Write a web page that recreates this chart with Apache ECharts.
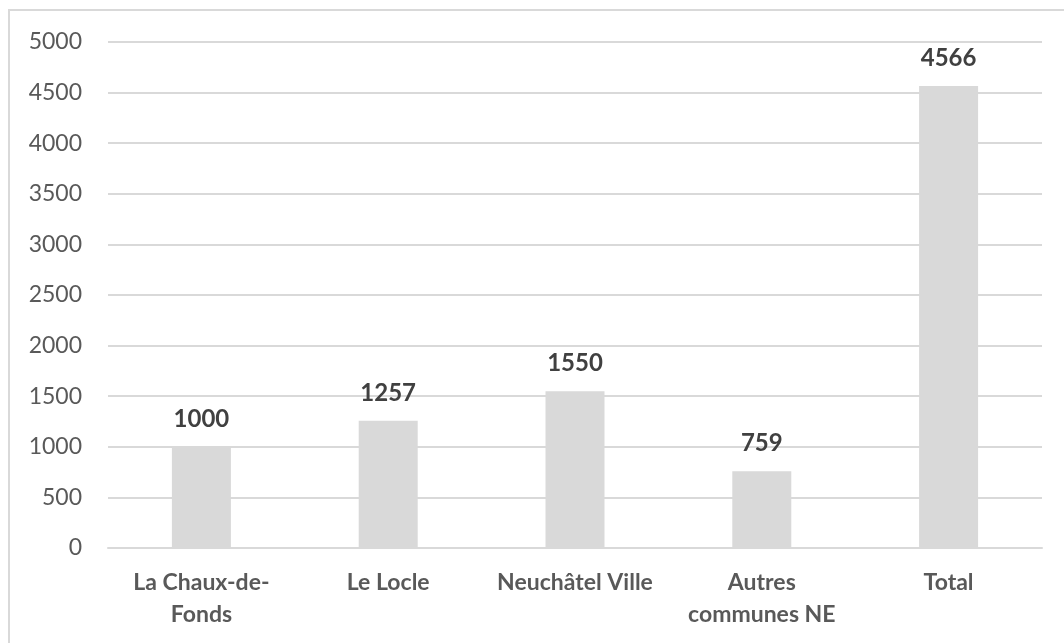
<!DOCTYPE html>
<html>
<head>
<meta charset="utf-8">
<script src="https://cdn.jsdelivr.net/npm/echarts@6/dist/echarts.min.js"></script>
<style>
  html, body { margin: 0; padding: 0; background: #fff; }
  #chart { width: 1064px; height: 643px; }
</style>
</head>
<body>
<div id="chart"></div>
<script>
  // données
  var categories = ['La Chaux-de-\nFonds', 'Le Locle', 'Neuchâtel Ville', 'Autres\ncommunes NE', 'Total'];
  var values = [1000, 1257, 1550, 759, 4566];
  var yTicks = [0, 500, 1000, 1500, 2000, 2500, 3000, 3500, 4000, 4500, 5000];

  var chart = echarts.init(document.getElementById('chart'));
  var font = 'Lato';

  var option = {
    animation: false,
    graphic: [{
      type: 'rect',
      shape: { x: 9, y: 10, width: 1200, height: 800 },
      style: { fill: 'none', stroke: '#d9d9d9', lineWidth: 2 },
      silent: true
    }],
    grid: { left: 108, right: 22, top: 42, bottom: 95, containLabel: false },
    xAxis: {
      type: 'category',
      data: categories,
      axisTick: { show: false },
      axisLine: { lineStyle: { color: '#d9d9d9', width: 2 } },
      axisLabel: {
        interval: 0,
        margin: 19,
        color: '#595959',
        fontFamily: font,
        fontWeight: 'bold',
        fontSize: 23,
        lineHeight: 32
      }
    },
    yAxis: {
      type: 'value',
      min: yTicks[0],
      max: yTicks[yTicks.length - 1],
      interval: 500,
      axisLine: { show: false },
      axisTick: { show: false },
      splitLine: { lineStyle: { color: '#d9d9d9', width: 2 } },
      axisLabel: {
        margin: 26,
        color: '#595959',
        fontFamily: font,
        fontSize: 23,
        formatter: function (v) { return String(v); }
      }
    },
    series: [{
      type: 'bar',
      data: values,
      barWidth: 59,
      itemStyle: { color: '#d9d9d9' },
      label: {
        show: true,
        position: 'top',
        distance: 16,
        color: '#404040',
        fontFamily: font,
        fontWeight: 'bold',
        fontSize: 24
      }
    }]
  };

  chart.setOption(option);
  window.addEventListener('resize', function () {
    chart.resize();
  });
</script>
</body>
</html>
